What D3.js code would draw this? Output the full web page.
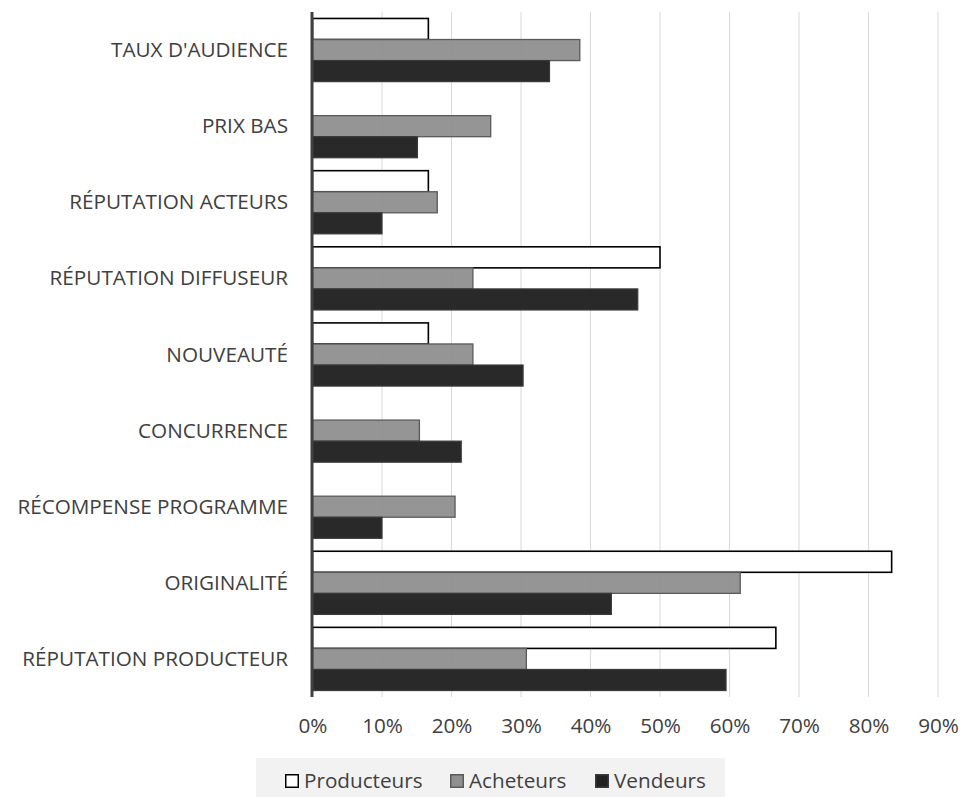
<!DOCTYPE html>
<html><head><meta charset="utf-8">
<script src="https://cdn.jsdelivr.net/npm/d3@7"></script>
<style>body{margin:0;background:#fff}svg{display:block}</style>
</head><body>
<script>
const categories = ["TAUX D'AUDIENCE","PRIX BAS","RÉPUTATION ACTEURS","RÉPUTATION DIFFUSEUR","NOUVEAUTÉ","CONCURRENCE","RÉCOMPENSE PROGRAMME","ORIGINALITÉ","RÉPUTATION PRODUCTEUR"];
const seriesNames = ["Producteurs","Acheteurs","Vendeurs"];
const producteurs = [16.67, 0, 16.67, 50, 16.67, 0, 0, 83.33, 66.67];
const acheteurs = [38.46, 25.64, 17.95, 23.08, 23.08, 15.38, 20.51, 61.54, 30.77];
const vendeurs = [34.1, 15.1, 10.0, 46.8, 30.3, 21.4, 10.0, 43.0, 59.5];
const xTicks = [0,10,20,30,40,50,60,70,80,90];

const W = 961, H = 797;
const svg = d3.select("body").append("svg").attr("width", W).attr("height", H);
const font = "'Open Sans', sans-serif";
const fs = 20.7;
const textColor = "#404040";

const x = d3.scaleLinear().domain([0, 90]).range([312.5, 938]);
const y0 = d3.scaleBand().domain(categories).range([12, 697]).paddingInner(0.17).paddingOuter(0.085);
const y1 = d3.scaleBand().domain(seriesNames).range([0, y0.bandwidth()]);

const styles = {
  Producteurs: {fill: "#ffffff", stroke: "#000000", sw: 1.6, op: 1},
  Acheteurs: {fill: "#8f8f8f", stroke: "#5a5a5a", sw: 1.3, op: 0.95},
  Vendeurs: {fill: "#222222", stroke: "#3a3a3a", sw: 1.2, op: 0.97}
};
const values = {Producteurs: producteurs, Acheteurs: acheteurs, Vendeurs: vendeurs};

// gridlines
svg.append("g").selectAll("line").data(xTicks.filter(d => d > 0)).join("line")
  .attr("x1", d => x(d)).attr("x2", d => x(d))
  .attr("y1", 12).attr("y2", 697)
  .attr("stroke", "#d9d9d9").attr("stroke-width", 1);

// bars
const rows = [];
categories.forEach((c, i) => seriesNames.forEach(s => rows.push({c, s, v: values[s][i]})));
svg.append("g").selectAll("rect").data(rows.filter(d => d.v > 0)).join("rect")
  .attr("x", x(0))
  .attr("y", d => y0(d.c) + y1(d.s))
  .attr("width", d => x(d.v) - x(0))
  .attr("height", y1.bandwidth())
  .attr("fill", d => styles[d.s].fill)
  .attr("fill-opacity", d => styles[d.s].op)
  .attr("stroke", d => styles[d.s].stroke)
  .attr("stroke-width", d => styles[d.s].sw);

// vertical axis line
svg.append("line").attr("x1", 312).attr("x2", 312).attr("y1", 12).attr("y2", 697)
  .attr("stroke", "#404040").attr("stroke-width", 3);

// category labels
svg.append("g").selectAll("text").data(categories).join("text")
  .attr("x", 288).attr("y", d => y0(d) + y0.bandwidth() / 2 - 1)
  .attr("text-anchor", "end").attr("dominant-baseline", "central")
  .attr("font-family", font).attr("font-size", fs).attr("fill", textColor)
  .text(d => d);

// x tick labels
const xAxis = svg.append("g").attr("transform", "translate(0,712)")
  .call(d3.axisBottom(x).tickValues(xTicks).tickFormat(d => d + "%").tickSize(0).tickPadding(6));
xAxis.select(".domain").remove();
xAxis.selectAll("text").attr("font-family", font).attr("font-size", fs).attr("fill", textColor);

// legend
const lg = svg.append("g");
lg.append("rect").attr("x", 256).attr("y", 758).attr("width", 469).attr("height", 39).attr("fill", "#f2f2f2");
const legendX = [285, 450, 595];
seriesNames.forEach((s, i) => {
  const g = lg.append("g").attr("transform", `translate(${legendX[i]},774)`);
  g.append("rect").attr("x", 0.75).attr("y", 0.75).attr("width", 12.5).attr("height", 12.5)
    .attr("fill", styles[s].fill).attr("stroke", styles[s].stroke).attr("stroke-width", 1.5);
  g.append("text").attr("x", 19).attr("y", 14)
    .attr("font-family", font).attr("font-size", fs).attr("fill", textColor).text(s);
});
</script>
</body></html>
